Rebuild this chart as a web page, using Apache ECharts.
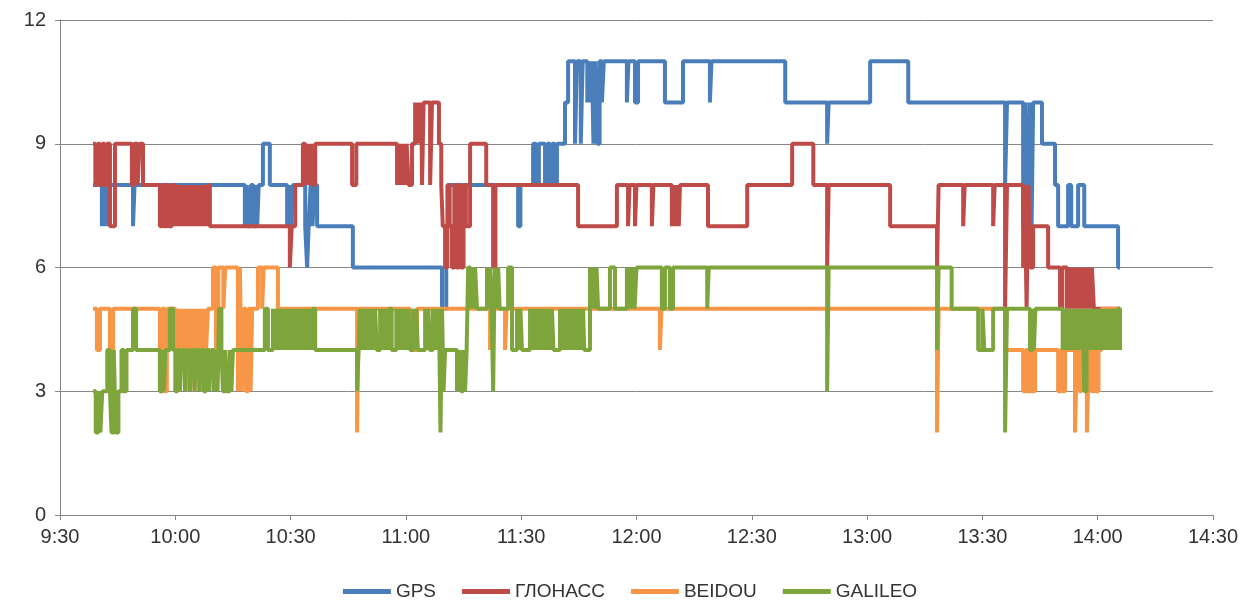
<!DOCTYPE html>
<html><head><meta charset="utf-8">
<script src="https://cdn.jsdelivr.net/npm/echarts@6/dist/echarts.min.js"></script>
<style>html,body{margin:0;padding:0;background:#fff}#c{width:1260px;height:610px}</style>
</head><body><div id="c"></div>
<script>
// time in minutes after midnight, value = number of satellites
const seriesNames = ['GPS', 'ГЛОНАСС', 'BEIDOU', 'GALILEO'];
const xTicks = ['9:30','10:00','10:30','11:00','11:30','12:00','12:30','13:00','13:30','14:00','14:30'];
const yTicks = [0, 3, 6, 9, 12];

const gps = [[578.6,8],[580.9,7],[581.4,8],[581.8,7],[582.3,8],[582.6,7],[583,8],[589,7],[589.4,8],
[618.1,7],[618.6,8],[619.1,7],[619.7,8],[620.3,7],[620.9,8],[621.3,7],[621.7,8],[622.8,9],[624.6,8],
[629.1,7],[629.6,8],[630.1,7],[630.6,8],[633.8,7],[634.3,6],[634.7,7],[635.2,8],[635.7,7],[636.2,8],[636.9,7],
[646.2,6],[669.4,5],[670.5,7],[671.2,8],[689.2,7],[689.8,8],
[693.1,9],[693.9,8],[694.6,9],[696.2,8],[696.8,9],[697.5,8],[698.1,9],[698.7,8],[699.3,9],
[701.4,10],[702.2,11],[704,9],[704.5,11],[705.5,9],[706,11],[707.2,10],[707.6,11],[708,10],[708.4,11],[708.8,9],[709.3,11],[709.8,9],[710.4,11],[711,10],[711.5,11],
[717.5,10],[717.9,11],[719.6,10],[720.4,11],[727.4,10],[732.1,11],[739.1,10],[739.5,11],
[758.7,10],[769.6,9],[770,10],[780.8,11],[790.7,10],
[815.9,8],[816.4,10],[820.6,7],[821.2,10],[821.7,7],[822.3,10],[822.8,7],[823.2,10],
[825.5,9],[828.9,8],[829.7,7],[832.3,8],[833.1,7],[834.9,8],[836.5,7],[845.3,6],[845.8,6]];

const glonass = [[578.6,9],[579.2,8],[579.8,9],[580.4,8],[581,9],[581.6,8],[582.2,9],[583,7],[584.3,9],
[588.7,8],[589.3,9],[590.2,8],[590.7,9],[591.6,8],
[596,7],[596.6,8],[597.2,7],[597.8,8],[598.4,7],[599.1,8],
[600,7],[600.4,8],[600.8,7],[601.2,8],[601.6,7],[602,8],[602.4,7],[602.8,8],[603.2,7],[603.6,8],[604,7],[604.4,8],
[604.8,7],[605.2,8],[605.6,7],[606,8],[606.4,7],[606.8,8],[607.2,7],[607.6,8],[608,7],[608.4,8],[609,7],
[629.8,6],[630.3,7],[631.2,8],[633.2,9],[633.8,8],[634.3,9],[634.8,8],[635.3,9],[635.8,8],[636.4,9],
[646,8],[647.1,9],[657.7,8],[658.2,9],[658.7,8],[659.2,9],[659.7,8],[660.2,9],[660.7,8],[661.6,9],
[662.4,10],[662.8,9],[663.2,10],[663.6,9],[664,10],[664.2,8],[664.6,10],[666.3,8],[666.8,10],
[668.6,9],[669.2,8],[669.6,7],[670.2,6],[670.8,8],[671.4,7],[672,6],[672.6,8],[673.2,6],[673.8,8],[674.4,6],[675,8],[675.6,7],
[676.7,9],[680.9,8],[682.7,6],[683.3,8],
[704.8,7],[714.9,8],[717.8,7],[718.2,8],[719.6,7],[720,8],[724,7],[724.4,8],
[729.2,7],[729.6,8],[730,7],[730.5,8],[731,7],[731.3,8],
[738.6,7],[748.8,8],[760.5,9],[766,8],[769.6,6],[770,8],[786,7],[798.2,6],[798.6,8],
[805,7],[805.4,8],[812.8,7],[813.2,8],[815.9,5],[816.4,8],
[820.6,6],[821,8],[821.5,5],[822,8],[822.5,6],[823.2,7],[827.1,6],[830.2,5],[830.8,6],
[832,5],[832.5,6],[833,5],[833.5,6],[834,5],[834.5,6],[835,5],[835.5,6],[836,5],[836.5,6],[837,5],[837.5,6],[838,5],[838.5,6],[839,5],
[845.8,5]];

const beidou = [[578.6,5],[579.6,4],[580.4,5],[583,4],[583.8,5],
[596,3],[596.6,5],[597.2,3],[597.8,5],
[600,4],[600.5,5],[601,3],[601.5,5],[602,4],[602.5,5],[603,3],[603.5,5],[604,4],[604.5,5],
[605,3],[605.5,5],[606,4],[606.5,5],[607,3],[607.5,5],[608,4],[608.5,5],
[609.8,6],[610.6,4],[611.2,6],[612.5,5],[613,6],
[616.3,3],[616.8,6],[617.3,3],[617.8,5],[618.4,3],[619,5],[619.6,3],[620,5],
[621.5,6],[622.6,5],[623,6],[626.7,5],
[635.8,4],[636.2,5],[647.3,2],[647.7,5],[661,4],[661.5,5],[662,4],[662.9,5],
[681.9,4],[682.3,5],[685.8,4],[686.2,5],[726.1,4],[726.5,5],[798.2,2],[798.6,5],
[815.9,4],[820.6,3],[821.2,4],[821.8,3],[822.4,4],[823,3],[823.7,4],
[829.7,3],[830.3,4],[830.9,3],[831.5,4],[834.1,2],[834.6,4],[835.2,3],[835.8,4],
[837.2,2],[837.7,4],[838.3,3],[839,4],[839.6,3],[840.2,4],[841,5],[845.8,5]];

const galileo = [[578.6,3],[579.3,2],[580,3],[580.5,2],[581,3],[582.3,4],[583,3],[583.4,2],[584,4],[584.5,2],[585.2,3],[586,4],[586.6,3],[587.3,4],
[589,5],[589.8,4],[596,3],[596.6,4],[597,3],[597.4,4],[598.6,5],[599.4,4],
[600,3],[600.6,4],[601.2,3],[601.7,4],[602.5,3],[603,4],[603.8,3],[604.3,4],[605,3],[605.5,4],
[606.2,3],[606.7,4],[607.4,3],[608,4],[608.8,3],[609.3,4],[610,3],[610.5,4],
[611,3],[611.4,5],[612,4],[612.4,3],[613,4],[613.5,3],[614.2,4],[614.6,3],[615,4],
[623.3,5],[624.1,4],
[625.4,5],[625.8,4],[626.2,5],[626.6,4],[627,5],[627.4,4],[627.8,5],[628.2,4],[628.6,5],[629,4],[629.4,5],[629.8,4],
[630.2,5],[630.6,4],[631,5],[631.4,4],[631.8,5],[632.2,4],[632.6,5],[633,4],[633.4,5],[633.8,4],[634.2,5],[634.6,4],
[635,5],[635.4,4],[635.8,5],[636.4,4],
[647.3,3],[647.7,4],
[648,5],[648.4,4],[648.8,5],[649.2,4],[649.6,5],[650,4],[650.4,5],[650.8,4],[651.2,5],[651.6,4],[652,5],[652.4,4],
[653.3,5],[653.7,4],[654.1,5],[654.5,4],[654.9,5],[655.3,4],[655.7,5],[656.3,4],
[657.5,5],[657.9,4],[658.3,5],[658.7,4],[659.1,5],[659.5,4],[659.9,5],[660.3,4],[660.7,5],[661.1,4],
[661.9,5],[662.3,4],[662.7,5],[663.1,4],[665,5],[665.4,4],[665.8,5],[666.2,4],[667,5],[667.4,4],[667.8,5],[668.2,4],[668.6,5],
[669,2],[669.4,5],[669.8,3],[670.2,4],
[673.3,3],[673.8,4],[674.3,3],[674.9,4],[675.4,3],[675.8,4],
[676.2,6],[676.8,5],[677.2,6],[677.6,5],[678,6],[678.5,5],
[681.1,6],[681.5,5],[681.9,6],[682.3,5],[682.7,3],[683.1,6],[683.5,5],[684,6],[684.4,5],
[686.6,6],[687.6,4],
[688.9,5],[689.4,4],[689.8,5],[690.2,4],
[692.3,5],[692.7,4],[693.1,5],[693.5,4],[693.9,5],[694.3,4],[694.7,5],[695.1,4],[695.5,5],[695.9,4],[696.3,5],[696.7,4],[697.1,5],[697.5,4],[698,5],[698.4,4],
[700.1,5],[700.6,4],[701,5],[701.4,4],[701.8,5],[702.2,4],[702.7,5],[703.1,4],
[703.5,5],[703.9,4],[704.3,5],[704.7,4],[705.2,5],[705.6,4],[706.1,5],[706.4,4],
[707.9,6],[708.4,5],[708.8,6],[709.2,5],[709.6,6],[710,5],
[713.1,6],[714.4,5],
[717.5,6],[717.9,5],[718.3,6],[718.7,5],[719.1,6],[719.5,5],[720,6],
[726.6,5],[727.4,6],[728.7,5],[729.5,6],[738.4,5],[738.8,6],
[769.6,3],[770,6],[798.2,4],[798.6,6],[802,5],
[808.9,4],[810,5],[810.5,4],[812.8,5],[815.9,2],[816.4,5],
[822.4,4],[823,5],[823.4,4],[823.8,5],
[830.9,4],[831.3,5],[831.7,4],[832.1,5],[832.5,4],[832.9,5],[833.3,4],[833.7,5],[834.1,4],[834.5,5],[834.9,4],[835.3,5],[835.7,4],[836.1,5],
[836.5,3],[837.1,5],[837.6,4],[838,5],[838.4,4],[838.8,5],[839.2,4],[839.6,5],[840,4],[840.4,5],[840.8,4],[841.2,5],
[841.6,4],[842,5],[842.4,4],[842.8,5],[843.2,4],[843.6,5],[844,4],[844.4,5],[844.8,4],[845.2,5],[845.8,4]];

const colors = ['#4A7EBB', '#BE4B48', '#F79646', '#7EA53C'];
const dataSets = [gps, glonass, beidou, galileo];
const font = '"Liberation Sans Narrow", "Liberation Sans", sans-serif';

const chart = echarts.init(document.getElementById('c'), null, {renderer: 'canvas'});
chart.setOption({
  animation: false,
  color: colors,
  grid: {left: 60, right: 47, top: 20, bottom: 95},
  legend: {
    bottom: 4, left: 'center', icon: 'rect', itemWidth: 48, itemHeight: 5, itemGap: 26,
    textStyle: {fontFamily: font, fontSize: 19, color: '#333'},
    data: seriesNames
  },
  xAxis: {
    type: 'value', min: 570, max: 870, interval: 30,
    axisLine: {show: true, lineStyle: {color: '#868686', width: 1}},
    axisTick: {show: true, length: 5, lineStyle: {color: '#868686'}},
    splitLine: {show: false},
    axisLabel: {
      fontFamily: font, fontSize: 20, color: '#333', margin: 12,
      formatter: v => xTicks[Math.round((v - 570) / 30)]
    }
  },
  yAxis: {
    type: 'value', min: 0, max: 12, interval: 3,
    axisLine: {show: true, lineStyle: {color: '#868686', width: 1}},
    axisTick: {show: true, length: 5, lineStyle: {color: '#868686'}},
    splitLine: {show: true, lineStyle: {color: '#868686', width: 1}},
    axisLabel: {fontFamily: font, fontSize: 20, color: '#333', margin: 14,
      formatter: v => String(yTicks[Math.round(v / 3)])}
  },
  series: seriesNames.map((n, i) => ({
    name: n, type: 'line', step: 'end', data: dataSets[i],
    showSymbol: false, symbol: 'none',
    lineStyle: {width: 4, color: colors[i]},
    itemStyle: {color: colors[i]},
    z: 2 + i
  }))
});
</script></body></html>
